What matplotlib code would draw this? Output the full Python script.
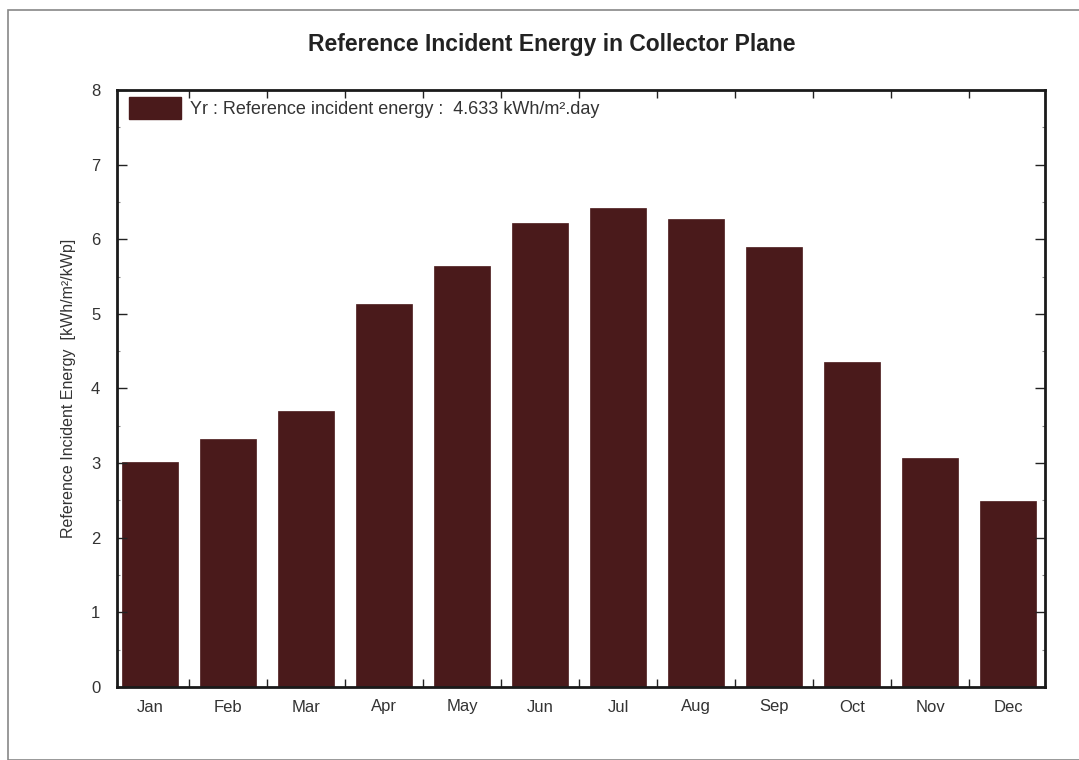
import matplotlib
matplotlib.use("Agg")
import matplotlib.pyplot as plt
from matplotlib.patches import Rectangle, Patch
from matplotlib.ticker import MultipleLocator, FixedLocator

months = ["Jan", "Feb", "Mar", "Apr", "May", "Jun", "Jul", "Aug", "Sep", "Oct", "Nov", "Dec"]
yr_values = [3.02, 3.32, 3.70, 5.13, 5.64, 6.22, 6.42, 6.27, 5.90, 4.36, 3.07, 2.49]
legend_label = "Yr : Reference incident energy :  4.633 kWh/m².day"
title = "Reference Incident Energy in Collector Plane"
ylabel = "Reference Incident Energy  [kWh/m²/kWp]"

plt.rcParams['font.family'] = ['Liberation Sans', 'DejaVu Sans']

fig = plt.figure(figsize=(10.79, 7.6), dpi=100)
ax = fig.add_axes([117/1079, 1 - 687/760, (1045-117)/1079, (687-90)/760])

bar_color = "#4a1a1b"
x = list(range(len(months)))
ax.bar(x, yr_values, width=0.72, color=bar_color, edgecolor=bar_color, linewidth=0.5)

ax.set_xlim(-0.42, 11.47)
ax.set_ylim(0, 8)

ax.set_xticks(x)
ax.set_xticklabels(months, fontsize=12)
ax.tick_params(axis='x', which='major', length=0, pad=9, colors='#333333')
ax.xaxis.set_minor_locator(FixedLocator([i + 0.5 for i in range(11)]))
ax.tick_params(axis='x', which='minor', direction='in', length=6, width=1, top=True, bottom=True, color='#222222')

ax.yaxis.set_major_locator(MultipleLocator(1))
ax.yaxis.set_minor_locator(MultipleLocator(0.5))
ax.tick_params(axis='y', which='major', direction='in', length=7, width=1, left=True, right=True,
               labelsize=12, pad=12, color='#222222', labelcolor='#333333')
ax.tick_params(axis='y', which='minor', direction='in', length=2, width=0.8, left=True, right=True, color='#888888')

for s in ax.spines.values():
    s.set_linewidth(2)
    s.set_color('#1a1a1a')

ax.set_ylabel(ylabel, fontsize=11.5, labelpad=11, color='#333333')

fig.text(552/1079, 1 - 45/760, title, ha='center', va='center', fontsize=16.5, fontweight='bold', color='#222222')

leg = ax.legend(handles=[Patch(facecolor=bar_color, edgecolor=bar_color, label=legend_label)],
                loc='upper left', frameon=False, fontsize=13, handlelength=2.9, handleheight=1.5,
                handletextpad=0.5, borderaxespad=0.0, bbox_to_anchor=(0.005, 1.0))
for t in leg.get_texts():
    t.set_color('#333333')

fig.patches.append(Rectangle((8/1079, 0.0), 1.2, 1 - 10/760, transform=fig.transFigure,
                             fill=False, edgecolor='#888888', linewidth=1.2))

fig.savefig("out.png", dpi=100)
